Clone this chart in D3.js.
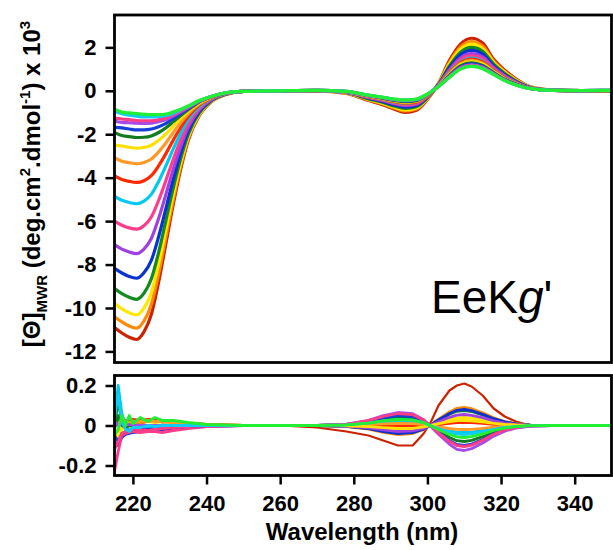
<!DOCTYPE html>
<html>
<head>
<meta charset="utf-8">
<script src="https://cdn.jsdelivr.net/npm/d3@7"></script>
<style>
    body { margin: 0; background: #fff; }
    svg { display: block; font-family: "Liberation Sans", Arial, sans-serif; }
</style>
</head>
<body>
<div id="chart"></div>
<script>
// 1. DATA
// wavelength grids (nm)
const wlTop = [215, 217, 219, 221, 223, 225, 227, 229, 231, 233, 235, 238, 241, 245, 250, 260,
    270, 278, 284, 288, 291, 294, 297, 300, 303, 306, 309, 312, 315, 318, 321, 324, 328, 334, 342, 350];
const wlRes = [215, 216, 217, 218, 219, 220, 222, 224, 226, 228, 231, 235, 240, 250, 260,
    270, 278, 284, 288, 292, 296, 299, 301, 303, 306, 308, 310, 312, 315, 318, 321, 324, 328, 334, 342, 350];

const seriesColors = ["#cc2200", "#ff8a00", "#ffe800", "#138a1e", "#0a32d2", "#a040e0", "#ff3c8c", "#00c8f0",
    "#ff2a00", "#ff9a28", "#ffe000", "#127a22", "#1440d8", "#a54ae8", "#ff3d86", "#10ccf8", "#22ee33"];

const yTicksTop = [-12, -10, -8, -6, -4, -2, 0, 2];
const yTicksRes = [-0.2, 0, 0.2];
const xTicks = [220, 240, 260, 280, 300, 320, 340];

// mean residue ellipticity x 10^3
const top01 = [-10.9, -11.15, -11.35, -11.45, -11.1, -10.3, -8.8, -7.0, -5.2, -3.6, -2.3, -1.15, -0.55, -0.18, -0.03, 0, 0, -0.12, -0.45, -0.65, -0.85, -1.0, -0.9, -0.4, 0.35, 1.4, 2.15, 2.42, 2.2, 1.45, 0.95, 0.55, 0.18, 0.03, 0, -0.03];
const top02 = [-10.40, -10.64, -10.83, -10.93, -10.60, -9.84, -8.42, -6.70, -4.99, -3.46, -2.22, -1.12, -0.54, -0.18, -0.03, 0, 0.00, -0.11, -0.42, -0.61, -0.80, -0.93, -0.84, -0.37, 0.33, 1.31, 2.02, 2.27, 2.06, 1.37, 0.89, 0.52, 0.17, 0.03, 0.0, -0.02];
const top03 = [-9.80, -10.04, -10.22, -10.32, -10.01, -9.30, -7.96, -6.35, -4.74, -3.30, -2.13, -1.07, -0.52, -0.17, -0.03, 0, 0.00, -0.10, -0.40, -0.58, -0.75, -0.88, -0.79, -0.35, 0.32, 1.24, 1.91, 2.15, 1.95, 1.30, 0.85, 0.49, 0.16, 0.03, 0.0, -0.02];
const top04 = [-9.11, -9.34, -9.51, -9.60, -9.32, -8.66, -7.43, -5.94, -4.45, -3.11, -2.02, -1.03, -0.50, -0.17, -0.03, 0, 0.01, -0.09, -0.37, -0.54, -0.70, -0.81, -0.73, -0.32, 0.30, 1.15, 1.78, 2.00, 1.82, 1.23, 0.80, 0.46, 0.15, 0.03, 0.0, -0.01];
const top05 = [-8.18, -8.39, -8.55, -8.63, -8.38, -7.81, -6.71, -5.39, -4.05, -2.85, -1.87, -0.96, -0.47, -0.16, -0.03, 0, 0.01, -0.08, -0.34, -0.50, -0.65, -0.75, -0.68, -0.29, 0.29, 1.06, 1.66, 1.86, 1.69, 1.15, 0.74, 0.43, 0.15, 0.03, 0.0, -0.01];
const top06 = [-7.08, -7.29, -7.42, -7.50, -7.29, -6.80, -5.87, -4.75, -3.59, -2.56, -1.69, -0.88, -0.44, -0.15, -0.03, 0, 0.01, -0.07, -0.31, -0.46, -0.59, -0.68, -0.62, -0.26, 0.27, 0.97, 1.52, 1.71, 1.56, 1.07, 0.69, 0.40, 0.14, 0.02, 0.0, 0.0];
const top07 = [-6.00, -6.19, -6.31, -6.37, -6.21, -5.81, -5.04, -4.11, -3.14, -2.26, -1.52, -0.81, -0.41, -0.14, -0.03, 0, 0.01, -0.06, -0.30, -0.43, -0.56, -0.64, -0.58, -0.25, 0.26, 0.92, 1.44, 1.61, 1.47, 1.02, 0.65, 0.38, 0.13, 0.02, 0.0, 0.0];
const top08 = [-4.86, -5.04, -5.14, -5.20, -5.08, -4.77, -4.17, -3.44, -2.66, -1.95, -1.34, -0.73, -0.38, -0.13, -0.03, 0, 0.01, -0.06, -0.27, -0.40, -0.52, -0.59, -0.53, -0.22, 0.24, 0.85, 1.33, 1.50, 1.36, 0.95, 0.61, 0.35, 0.12, 0.02, 0.01, 0.01];
const top09 = [-3.92, -4.08, -4.17, -4.22, -4.14, -3.91, -3.45, -2.88, -2.26, -1.69, -1.19, -0.66, -0.36, -0.12, -0.03, 0, 0.01, -0.05, -0.27, -0.39, -0.50, -0.57, -0.52, -0.22, 0.24, 0.82, 1.30, 1.46, 1.33, 0.93, 0.59, 0.34, 0.12, 0.02, 0.01, 0.01];
const top10 = [-3.08, -3.24, -3.31, -3.36, -3.30, -3.14, -2.81, -2.39, -1.91, -1.46, -1.06, -0.61, -0.33, -0.12, -0.03, 0, 0.02, -0.05, -0.25, -0.38, -0.48, -0.54, -0.49, -0.20, 0.23, 0.79, 1.25, 1.40, 1.27, 0.90, 0.57, 0.33, 0.12, 0.02, 0.01, 0.01];
const top11 = [-2.50, -2.54, -2.60, -2.64, -2.61, -2.51, -2.28, -1.98, -1.62, -1.27, -0.94, -0.56, -0.31, -0.11, -0.03, 0, 0.02, -0.05, -0.24, -0.36, -0.46, -0.52, -0.47, -0.19, 0.23, 0.75, 1.20, 1.34, 1.22, 0.87, 0.55, 0.32, 0.11, 0.02, 0.01, 0.01];
const top12 = [-1.92, -2.06, -2.11, -2.15, -2.14, -2.08, -1.92, -1.70, -1.42, -1.14, -0.87, -0.52, -0.30, -0.11, -0.03, 0, 0.02, -0.04, -0.23, -0.35, -0.44, -0.50, -0.45, -0.18, 0.22, 0.72, 1.15, 1.29, 1.17, 0.84, 0.53, 0.31, 0.11, 0.02, 0.01, 0.01];
const top13 = [-1.68, -1.71, -1.76, -1.80, -1.80, -1.76, -1.65, -1.50, -1.27, -1.05, -0.82, -0.50, -0.29, -0.11, -0.03, 0, 0.02, -0.04, -0.22, -0.33, -0.42, -0.47, -0.43, -0.17, 0.21, 0.69, 1.10, 1.24, 1.13, 0.81, 0.51, 0.30, 0.11, 0.02, 0.01, 0.02];
const top14 = [-1.40, -1.45, -1.47, -1.49, -1.50, -1.49, -1.42, -1.32, -1.15, -0.97, -0.77, -0.48, -0.28, -0.10, -0.03, 0, 0.02, -0.04, -0.22, -0.32, -0.41, -0.45, -0.41, -0.17, 0.21, 0.67, 1.07, 1.20, 1.09, 0.79, 0.50, 0.29, 0.10, 0.02, 0.01, 0.02];
const top15 = [-1.26, -1.30, -1.33, -1.37, -1.38, -1.38, -1.33, -1.25, -1.10, -0.93, -0.75, -0.47, -0.28, -0.10, -0.03, 0, 0.02, -0.03, -0.21, -0.31, -0.40, -0.44, -0.40, -0.16, 0.21, 0.65, 1.05, 1.17, 1.07, 0.78, 0.49, 0.28, 0.10, 0.02, 0.01, 0.02];
const top16 = [-0.95, -1.05, -1.12, -1.17, -1.20, -1.20, -1.19, -1.14, -1.03, -0.88, -0.72, -0.46, -0.27, -0.10, -0.03, 0, 0.02, -0.03, -0.20, -0.30, -0.39, -0.43, -0.39, -0.15, 0.20, 0.63, 1.02, 1.14, 1.04, 0.76, 0.48, 0.27, 0.10, 0.02, 0.01, 0.02];
const top17 = [-0.85, -0.98, -1.02, -1.05, -1.08, -1.10, -1.10, -1.07, -0.97, -0.85, -0.70, -0.45, -0.27, -0.10, -0.03, 0, 0.02, -0.03, -0.20, -0.30, -0.38, -0.42, -0.38, -0.15, 0.20, 0.62, 1.00, 1.12, 1.02, 0.75, 0.47, 0.27, 0.10, 0.02, 0.01, 0.02];

// fit residuals
const res01 = [0.0, 0.01, 0.02, 0.0, 0.015, 0.02, 0.01, 0.02, 0.025, 0.015, 0.02, 0.01, 0.005, 0, 0, -0.01, -0.03, -0.05, -0.075, -0.1, -0.1, -0.04, 0.02, 0.1, 0.175, 0.2, 0.21, 0.195, 0.15, 0.085, 0.045, 0.02, 0.0, 0.0, 0.0, 0.0];
const res02 = [0.01, 0.03, 0.0, 0.02, 0.01, 0.02, 0.015, 0.02, 0.025, 0.02, 0.015, 0.01, 0.005, 0, 0, 0, -0.005, -0.018, -0.034, -0.045, -0.04, -0.02, 0.005, 0.032, 0.068, 0.086, 0.09, 0.084, 0.063, 0.038, 0.02, 0.009, 0.002, 0, 0, 0];
const res03 = [-0.03, -0.06, -0.02, 0.0, -0.01, 0.0, -0.005, 0.0, 0.005, 0.0, 0.0, 0.0, 0, 0, 0, 0, -0.002, -0.008, -0.015, -0.02, -0.018, -0.009, 0.002, 0.014, 0.03, 0.038, 0.04, 0.037, 0.028, 0.017, 0.009, 0.004, 0.001, 0, 0, 0];
const res04 = [0.0, 0.12, 0.02, -0.01, 0.0, 0.01, 0.0, -0.005, 0.0, 0.0, 0.0, 0.0, 0, 0, 0, 0, -0.004, -0.014, -0.026, -0.035, -0.032, -0.016, 0.004, 0.026, 0.056, 0.071, 0.075, 0.07, 0.053, 0.032, 0.017, 0.008, 0.002, 0, 0, 0];
const res05 = [-0.08, -0.1, -0.06, -0.045, -0.04, -0.035, -0.03, -0.025, -0.02, -0.02, -0.015, -0.01, -0.005, 0, 0, 0, -0.004, -0.016, -0.03, -0.04, -0.036, -0.018, 0.004, 0.028, 0.06, 0.076, 0.08, 0.074, 0.056, 0.034, 0.018, 0.008, 0.002, 0, 0, 0];
const res06 = [0.0, 0.02, 0.01, -0.01, 0.0, 0.005, 0.0, -0.005, 0.0, -0.005, 0.0, 0.0, 0, 0, 0, 0, -0.003, -0.012, -0.022, -0.03, -0.027, -0.014, 0.003, 0.019, 0.041, 0.052, 0.055, 0.051, 0.039, 0.023, 0.012, 0.006, 0.001, 0, 0, 0];
const res07 = [-0.23, -0.13, -0.05, -0.04, -0.035, -0.03, -0.035, -0.03, -0.03, -0.035, -0.025, -0.015, -0.005, 0, 0, 0, -0.001, -0.004, -0.008, -0.01, -0.009, -0.005, 0.001, 0.007, 0.015, 0.019, 0.02, 0.019, 0.014, 0.008, 0.004, 0.002, 0, 0, 0, 0];
const res08 = [0.03, 0.2, 0.06, 0.0, -0.025, -0.01, 0.0, -0.015, -0.01, -0.01, -0.005, 0.0, 0, 0, 0, 0, 0.002, 0.008, 0.015, 0.02, 0.018, 0.009, -0.002, -0.012, -0.026, -0.033, -0.035, -0.033, -0.025, -0.015, -0.008, -0.004, -0.001, 0, 0, 0];
const res09 = [0.0, 0.03, 0.02, 0.025, 0.02, 0.03, 0.025, 0.03, 0.03, 0.025, 0.02, 0.01, 0.005, 0, 0, 0, 0, -0.002, -0.004, -0.005, -0.005, -0.002, 0.001, 0.005, 0.011, 0.014, 0.015, 0.014, 0.011, 0.006, 0.003, 0.002, 0, 0, 0, 0];
const res10 = [0.0, 0.02, 0.01, 0.02, 0.015, 0.02, 0.02, 0.025, 0.02, 0.02, 0.015, 0.01, 0.005, 0, 0, 0, 0.001, 0.004, 0.008, 0.01, 0.009, 0.005, -0.001, -0.007, -0.015, -0.019, -0.02, -0.019, -0.014, -0.008, -0.004, -0.002, 0, 0, 0, 0];
const res11 = [-0.02, -0.03, -0.01, 0.0, 0.0, 0.005, 0.0, 0.0, 0.0, 0.0, 0, 0, 0, 0, 0, 0, -0.002, -0.006, -0.011, -0.015, -0.014, -0.007, 0.001, 0.009, 0.019, 0.024, 0.025, 0.023, 0.018, 0.011, 0.006, 0.003, 0.001, 0, 0, 0];
const res12 = [-0.02, 0.05, 0.0, -0.01, 0.0, 0.0, 0.0, 0.0, 0.0, 0.0, 0, 0, 0, 0, 0, 0, 0.004, 0.016, 0.03, 0.04, 0.036, 0.018, -0.004, -0.028, -0.06, -0.076, -0.08, -0.074, -0.056, -0.034, -0.018, -0.008, -0.002, 0, 0, 0];
const res13 = [-0.05, -0.08, -0.04, -0.03, -0.025, -0.02, -0.02, -0.02, -0.015, -0.01, -0.01, -0.005, 0, 0, 0, 0, 0.005, 0.02, 0.038, 0.05, 0.045, 0.023, -0.005, -0.035, -0.075, -0.095, -0.1, -0.093, -0.07, -0.042, -0.022, -0.01, -0.002, 0, 0, 0];
const res14 = [0.02, 0.0, 0.01, 0.0, 0.005, 0.0, 0.0, 0.0, 0.0, 0.0, 0, 0, 0, 0, 0, 0, 0.007, 0.026, 0.049, 0.065, 0.059, 0.029, -0.006, -0.044, -0.094, -0.119, -0.125, -0.116, -0.088, -0.053, -0.028, -0.013, -0.003, 0, 0, 0];
const res15 = [-0.12, -0.08, -0.04, -0.03, -0.025, -0.02, -0.02, -0.025, -0.02, -0.015, -0.01, -0.005, 0, 0, 0, 0, 0.006, 0.024, 0.045, 0.06, 0.054, 0.027, -0.005, -0.037, -0.079, -0.1, -0.105, -0.098, -0.074, -0.044, -0.023, -0.011, -0.002, 0, 0, 0];
const res16 = [0.05, 0.15, 0.02, -0.02, -0.03, -0.01, -0.01, 0.0, -0.005, 0.0, 0, 0, 0, 0, 0, 0, 0.003, 0.012, 0.023, 0.03, 0.027, 0.014, -0.002, -0.016, -0.034, -0.043, -0.045, -0.042, -0.032, -0.019, -0.01, -0.005, -0.001, 0, 0, 0];
const res17 = [-0.05, -0.02, 0.05, 0.0, 0.05, 0.01, 0.04, 0.02, 0.04, 0.025, 0.025, 0.015, 0.005, 0, 0, 0, 0.003, 0.012, 0.023, 0.03, 0.027, 0.014, -0.003, -0.021, -0.045, -0.057, -0.06, -0.056, -0.042, -0.025, -0.013, -0.006, -0.001, 0, 0, 0];

const topSeries = [top01, top02, top03, top04, top05, top06, top07, top08, top09, top10, top11, top12, top13, top14, top15, top16, top17];
const resSeries = [res01, res02, res03, res04, res05, res06, res07, res08, res09, res10, res11, res12, res13, res14, res15, res16, res17];

// 2. LAYOUT
const width = 613, height = 550;
const left = 114.5, right = 611.5;
const topPanel = { y0: 15, y1: 362.5 };
const resPanel = { y0: 375.5, y1: 475.5 };
const font = '"Liberation Sans", Arial, sans-serif';

const svg = d3.select("#chart").append("svg")
    .attr("width", width)
    .attr("height", height);

const x = d3.scaleLinear().domain([215, 350]).range([left, right]);
const yTop = d3.scaleLinear().domain([-12.51, 3.49]).range([topPanel.y1, topPanel.y0]);
const yRes = d3.scaleLinear().domain([-0.25, 0.25]).range([resPanel.y1, resPanel.y0]);

const defs = svg.append("defs");
[["clip-top", topPanel], ["clip-res", resPanel]].forEach(([id, p]) => {
    defs.append("clipPath").attr("id", id)
        .append("rect")
        .attr("x", left).attr("y", p.y0)
        .attr("width", right - left).attr("height", p.y1 - p.y0);
});

// --- CURVES ---
const lineTop = d3.line()
    .x((d, i) => x(wlTop[i]))
    .y(d => yTop(d))
    .curve(d3.curveMonotoneX);

const lineRes = d3.line()
    .x((d, i) => x(wlRes[i]))
    .y(d => yRes(d))
    .curve(d3.curveLinear);

svg.append("g").attr("clip-path", "url(#clip-top)")
    .selectAll("path")
    .data(topSeries)
    .join("path")
    .attr("d", lineTop)
    .attr("fill", "none")
    .attr("stroke", (d, i) => seriesColors[i])
    .attr("stroke-width", 3.2)
    .attr("stroke-linejoin", "round");

svg.append("g").attr("clip-path", "url(#clip-res)")
    .selectAll("path")
    .data(resSeries)
    .join("path")
    .attr("d", lineRes)
    .attr("fill", "none")
    .attr("stroke", (d, i) => seriesColors[i])
    .attr("stroke-width", (d, i) => i === 0 ? 2.2 : 2.8)
    .attr("stroke-linejoin", "round");

// --- AXES ---
// plain hyphen for negatives, as in the original figure
const hyphen = d => d === 0 ? "0" : (Number.isInteger(d) ? String(d) : d.toFixed(1));

function styleAxis(g) {
    g.select(".domain").remove();
    g.selectAll(".tick line").attr("stroke", "#000").attr("stroke-width", 2.5);
    g.selectAll(".tick text")
        .attr("fill", "#000")
        .style("font-family", font)
        .style("font-size", "22px")
        .style("font-weight", "bold");
}

svg.append("g")
    .attr("transform", `translate(${left},0)`)
    .call(d3.axisLeft(yTop).tickValues(yTicksTop).tickSize(9).tickPadding(9).tickFormat(hyphen))
    .call(styleAxis);

svg.append("g")
    .attr("transform", `translate(${left},0)`)
    .call(d3.axisLeft(yRes).tickValues(yTicksRes).tickSize(9).tickPadding(9).tickFormat(hyphen))
    .call(styleAxis);

svg.append("g")
    .attr("transform", `translate(0,${resPanel.y1})`)
    .call(d3.axisBottom(x).tickValues(xTicks).tickSize(9).tickPadding(11).tickFormat(hyphen))
    .call(styleAxis);

// panel frames
[topPanel, resPanel].forEach(p => {
    svg.append("rect")
        .attr("x", left).attr("y", p.y0)
        .attr("width", right - left).attr("height", p.y1 - p.y0)
        .attr("fill", "none")
        .attr("stroke", "#000")
        .attr("stroke-width", 2.8);
});

// --- LABELS ---
svg.append("text")
    .attr("x", 362).attr("y", 540)
    .attr("text-anchor", "middle")
    .style("font-family", font).style("font-size", "24px").style("font-weight", "bold")
    .text("Wavelength (nm)");

const yTitle = svg.append("text")
    .attr("transform", "translate(40,184) rotate(-90)")
    .attr("text-anchor", "middle")
    .style("font-family", font).style("font-size", "24px").style("font-weight", "bold");
yTitle.append("tspan").text("[\u0398]");
yTitle.append("tspan").attr("dy", 7).style("font-size", "15px").text("MWR");
yTitle.append("tspan").attr("dy", -7).text(" (deg.cm");
yTitle.append("tspan").attr("dy", -10).style("font-size", "15px").text("2");
yTitle.append("tspan").attr("dy", 10).text(".dmol");
yTitle.append("tspan").attr("dy", -10).style("font-size", "15px").text("-1");
yTitle.append("tspan").attr("dy", 10).text(") x 10");
yTitle.append("tspan").attr("dy", -10).style("font-size", "15px").text("3");

const tag = svg.append("text")
    .attr("x", 431).attr("y", 313)
    .style("font-family", font).style("font-size", "46px");
tag.append("tspan").text("EeK");
tag.append("tspan").style("font-style", "italic").text("g");
tag.append("tspan").text("'");
</script>
</body>
</html>
